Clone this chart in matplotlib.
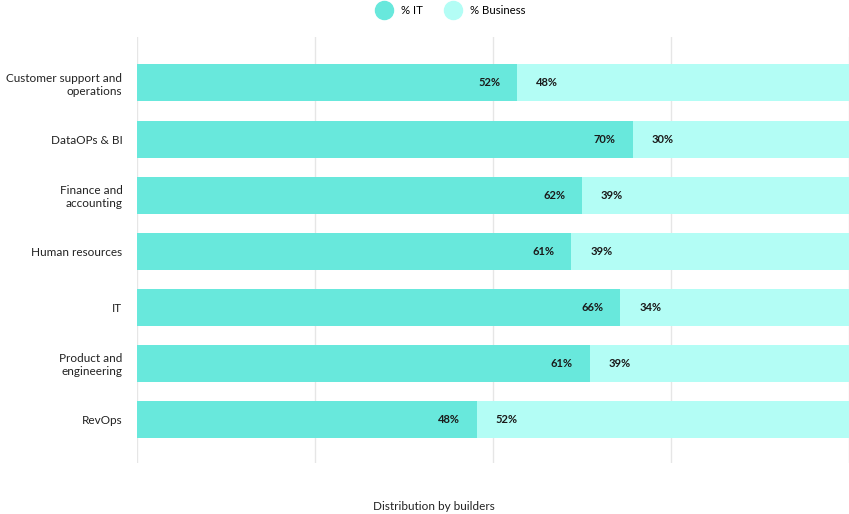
import matplotlib
matplotlib.use('Agg')
from matplotlib import pyplot
from matplotlib.lines import Line2D
import numpy

pyplot.rcParams['font.family'] = ['Lato', 'DejaVu Sans']

categories = ['Customer support and\noperations', 'DataOPs & BI', 'Finance and\naccounting',
              'Human resources', 'IT', 'Product and\nengineering', 'RevOps']
# bar lengths as drawn (share of the row, %)
it_share = [53.4, 69.6, 62.5, 61.0, 67.9, 63.6, 47.7]
business_share = [100 - v for v in it_share]
# printed labels
it_labels = ['52%', '70%', '62%', '61%', '66%', '61%', '48%']
business_labels = ['48%', '30%', '39%', '39%', '34%', '39%', '52%']

it_color = '#68e8dc'
business_color = '#b3fdf5'

fig = pyplot.figure(figsize=(8.49, 5.14), dpi=100)
ax = fig.add_axes([137 / 849, 1 - 463 / 514, 712 / 849, 426 / 514])

y = numpy.arange(len(categories))
ax.barh(y, it_share, height=0.66, color=it_color, zorder=2)
ax.barh(y, business_share, left=it_share, height=0.66, color=business_color, zorder=2)

for i in range(len(categories)):
    ax.annotate(it_labels[i], (it_share[i], y[i]), xytext=(-17, 0), textcoords='offset pixels',
                ha='right', va='center', fontsize=8, fontweight='bold', color='#1a1a1a', zorder=3)
    ax.annotate(business_labels[i], (it_share[i], y[i]), xytext=(19, 0), textcoords='offset pixels',
                ha='left', va='center', fontsize=8, fontweight='bold', color='#1a1a1a', zorder=3)

ax.set_xlim(0, 100)
ax.set_ylim(6.78, -0.82)
ax.set_xticks([0, 25, 50, 75, 100])
ax.set_xticklabels([])
ax.set_yticks(y)
ax.set_yticklabels(categories, fontsize=8.5, color='#222222')
ax.tick_params(axis='both', length=0)
ax.tick_params(axis='y', pad=10.5)
ax.grid(axis='x', color='#e6e6e6', linewidth=1, zorder=0)
for side in ['top', 'right', 'left', 'bottom']:
    ax.spines[side].set_visible(False)

handles = [Line2D([], [], marker='o', linestyle='', markersize=13, markerfacecolor=it_color, markeredgecolor=it_color),
           Line2D([], [], marker='o', linestyle='', markersize=13, markerfacecolor=business_color, markeredgecolor=business_color)]
fig.legend(handles, ['% IT', '% Business'], loc='center', bbox_to_anchor=(449 / 849, 1 - 10 / 514),
           ncol=2, frameon=False, fontsize=8.2, handletextpad=0.5, columnspacing=1.6)

fig.text(434 / 849, 1 - 507 / 514, 'Distribution by builders', ha='center', va='center',
         fontsize=8.5, color='#222222')

fig.savefig('out.png', dpi=100)
